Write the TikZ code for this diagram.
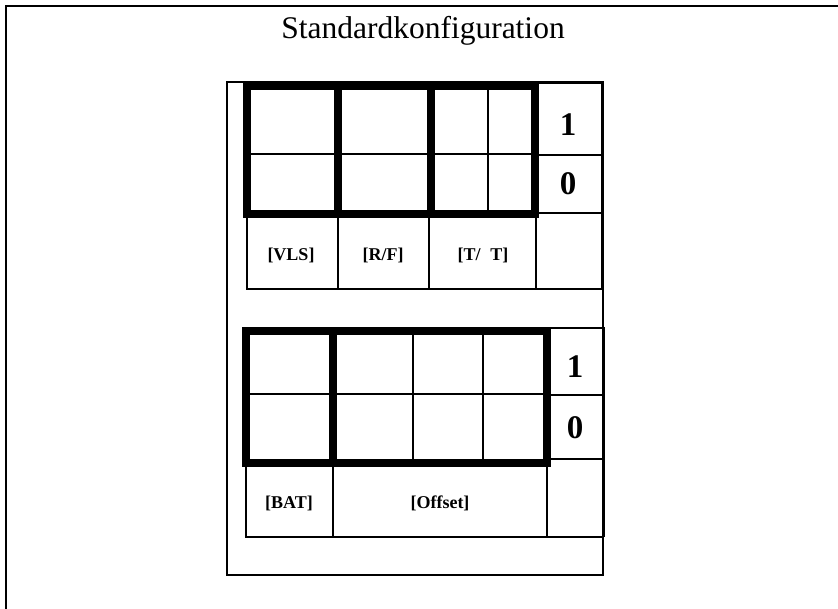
\documentclass[tikz,border=0pt]{standalone}
\usepackage{fontspec}
\setmainfont{Liberation Serif}
\begin{document}
\begin{tikzpicture}[x=1pt,y=-1pt,
  thin line/.style={line width=2.2pt},
  thick line/.style={line width=8.5pt, line cap=rect},
  frame line/.style={line width=2.6pt},
  digit/.style={font=\fontsize{33}{36}\selectfont\bfseries, inner sep=0pt},
  lbl/.style={font=\fontsize{18}{20}\selectfont\bfseries, inner sep=0pt},
  title/.style={font=\fontsize{31.5}{34}\selectfont, inner sep=0pt}]
\useasboundingbox (0,0) rectangle (838,609);
% outer frame (top and left edges only)
\draw[frame line] (838,6) -- (6,6) -- (6,609);
\node[title] (t) at (423,31) {Standardkonfiguration};
% panel
\draw[frame line] (227,82) rectangle (603,575);

% ---------- upper table ----------
\draw[thin line] (535,83) -- (602,83) -- (602,289);
\draw[thin line] (535,155) -- (602,155);
\draw[thin line] (535,213) -- (602,213);
\draw[thin line] (247,214) -- (247,289) -- (602,289);
\draw[thin line] (338,214) -- (338,289);
\draw[thin line] (429,214) -- (429,289);
\draw[thin line] (536,214) -- (536,289);
\draw[thin line] (247,154) -- (535,154);
\draw[thin line] (488,86) -- (488,214);
\draw[thick line] (247,86) rectangle (535,214);
\draw[thick line] (338,86) -- (338,214);
\draw[thick line] (431,86) -- (431,214);
\node[digit] (u1) at (568,125) {1};
\node[digit] (u0) at (568,184) {0};
\node[lbl] (vls) at (291,255) {[VLS]};
\node[lbl] (rf) at (383,255) {[R/F]};
\node[lbl] (tt) at (483,255) {[T/\hspace{0.55em}T]};

% ---------- lower table ----------
\draw[thin line] (547,328) -- (604,328) -- (604,537);
\draw[thin line] (547,395) -- (604,395);
\draw[thin line] (547,459) -- (604,459);
\draw[thin line] (246,463) -- (246,537) -- (604,537);
\draw[thin line] (333,463) -- (333,537);
\draw[thin line] (547,463) -- (547,537);
\draw[thin line] (246,394) -- (547,394);
\draw[thin line] (413,331) -- (413,463);
\draw[thin line] (483,331) -- (483,463);
\draw[thick line] (246,331) rectangle (547,463);
\draw[thick line] (333,331) -- (333,463);
\node[digit] (l1) at (575,367) {1};
\node[digit] (l0) at (575,428) {0};
\node[lbl] (bat) at (289,503) {[BAT]};
\node[lbl] (off) at (440,503) {[Offset]};
\end{tikzpicture}
\end{document}
